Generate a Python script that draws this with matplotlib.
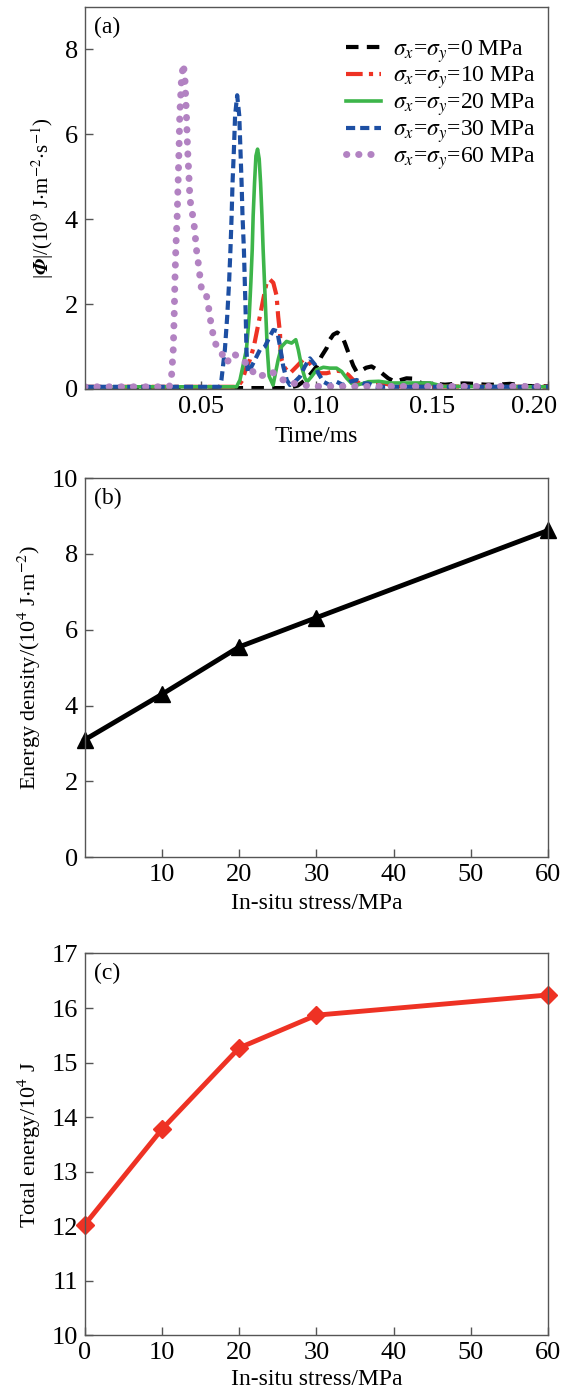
import numpy as np
import matplotlib
matplotlib.use("Agg")
import matplotlib.pyplot as plt
import matplotlib.transforms as mtransforms

plt.rcParams['font.family'] = ['Liberation Serif', 'DejaVu Serif']
plt.rcParams['mathtext.fontset'] = 'stix'

# (a) energy flux vs time
t_0 = [0.0, 0.088, 0.092, 0.095, 0.0975, 0.1001, 0.1022, 0.1044, 0.1058, 0.1073, 0.109, 0.111,
       0.1123, 0.1145, 0.1159, 0.1174, 0.119, 0.1215, 0.1238, 0.1274, 0.131, 0.1339, 0.137,
       0.1389, 0.1425, 0.1454, 0.1505, 0.1555, 0.16, 0.1634, 0.168, 0.173, 0.178, 0.1836,
       0.19, 0.2]
v_0 = [0.02, 0.02, 0.08, 0.2, 0.35, 0.53, 0.77, 0.96, 1.16, 1.28, 1.33, 1.25,
       1.08, 0.75, 0.55, 0.4, 0.42, 0.5, 0.53, 0.41, 0.25, 0.17, 0.22,
       0.25, 0.24, 0.13, 0.12, 0.1, 0.12, 0.13, 0.12, 0.1, 0.1, 0.12,
       0.07, 0.06]

t_10 = [0.0, 0.066, 0.068, 0.0699, 0.0713, 0.073, 0.0756, 0.077, 0.0785, 0.0799, 0.0814,
        0.0828, 0.0835, 0.0843, 0.0845, 0.085, 0.0864, 0.0886, 0.0915, 0.0943, 0.0965,
        0.0987, 0.1015, 0.1044, 0.1087, 0.1116, 0.1138, 0.1159, 0.1188, 0.125, 0.13, 0.135, 0.2]
v_10 = [0.05, 0.05, 0.2, 0.53, 0.69, 1.0, 1.71, 2.1, 2.5, 2.58, 2.5,
        2.2, 1.71, 1.31, 0.92, 0.69, 0.49, 0.37, 0.53, 0.69, 0.65,
        0.49, 0.37, 0.37, 0.43, 0.41, 0.33, 0.21, 0.13, 0.1, 0.12, 0.06, 0.05]

t_20 = [0.0, 0.0655, 0.067, 0.0698, 0.071, 0.0717, 0.0723, 0.0727, 0.0733, 0.0739, 0.0746,
        0.0753, 0.0759, 0.0765, 0.077, 0.0776, 0.0782, 0.0788, 0.0796, 0.0813, 0.0835,
        0.085, 0.0871, 0.0893, 0.0911, 0.0922, 0.0936, 0.095, 0.096, 0.0979, 0.1001,
        0.103, 0.1058, 0.1087, 0.1109, 0.1131, 0.1152, 0.1174, 0.1202, 0.1224, 0.127,
        0.132, 0.139, 0.149, 0.155, 0.2]
v_20 = [0.05, 0.05, 0.21, 0.93, 1.71, 2.5, 3.29, 4.08, 4.86, 5.49, 5.65,
        5.42, 4.86, 4.08, 3.29, 2.5, 1.71, 0.93, 0.3, 0.09, 0.69,
        1.0, 1.12, 1.08, 1.16, 0.92, 0.53, 0.26, 0.17, 0.29, 0.45,
        0.51, 0.49, 0.49, 0.41, 0.25, 0.13, 0.09, 0.13, 0.17, 0.18,
        0.14, 0.14, 0.14, 0.06, 0.05]

t_30 = [0.0, 0.0583, 0.059, 0.0605, 0.0615, 0.0623, 0.0629, 0.0634, 0.0638, 0.0644, 0.0649,
        0.0658, 0.0667, 0.0672, 0.0677, 0.0681, 0.0687, 0.0691, 0.0695, 0.0698, 0.0703,
        0.0706, 0.072, 0.0735, 0.0756, 0.0778, 0.0799, 0.0814, 0.0831, 0.0843, 0.0857,
        0.0872, 0.0886, 0.0907, 0.0929, 0.095, 0.0972, 0.0994, 0.1008, 0.103, 0.1058,
        0.1087, 0.1116, 0.1145, 0.1174, 0.1202, 0.1224, 0.126, 0.2]
v_30 = [0.05, 0.05, 0.21, 0.93, 1.71, 2.5, 3.29, 4.08, 4.86, 5.65, 6.44,
        6.92, 6.44, 5.65, 4.86, 4.08, 3.29, 2.5, 1.71, 0.93, 0.45,
        0.37, 0.53, 0.69, 0.92, 1.0, 1.24, 1.39, 1.36, 1.0, 0.53,
        0.21, 0.09, 0.17, 0.29, 0.53, 0.72, 0.57, 0.37, 0.17, 0.09,
        0.17, 0.09, 0.17, 0.21, 0.13, 0.13, 0.05, 0.05]

t_60 = [0.0, 0.0365, 0.0374, 0.0382, 0.0386, 0.0389, 0.0393, 0.0399, 0.0403, 0.0407, 0.041,
        0.0417, 0.0425, 0.0432, 0.0439, 0.0444, 0.0451, 0.0454, 0.0464, 0.0471, 0.0477,
        0.0482, 0.049, 0.0497, 0.0506, 0.0526, 0.0536, 0.0547, 0.0562, 0.0583, 0.0612,
        0.0641, 0.0677, 0.0706, 0.072, 0.0742, 0.0778, 0.0807, 0.0843, 0.0886, 0.0915,
        0.0943, 0.1, 0.2]
v_60 = [0.05, 0.05, 0.25, 0.93, 1.71, 2.5, 3.29, 4.08, 4.86, 5.65, 6.44,
        7.23, 7.66, 7.38, 6.44, 5.65, 4.86, 4.47, 4.15, 3.92, 3.6,
        3.29, 2.97, 2.66, 2.26, 2.18, 1.87, 1.47, 1.08, 0.93, 0.61,
        0.84, 0.69, 0.57, 0.45, 0.29, 0.33, 0.41, 0.25, 0.13, 0.13,
        0.09, 0.06, 0.06]

labels_a = [r'$\sigma_x$=$\sigma_y$=0 MPa', r'$\sigma_x$=$\sigma_y$=10 MPa',
            r'$\sigma_x$=$\sigma_y$=20 MPa', r'$\sigma_x$=$\sigma_y$=30 MPa',
            r'$\sigma_x$=$\sigma_y$=60 MPa']

# (b) and (c)
stress = [0, 10, 20, 30, 60]
energy_density = [3.1, 4.3, 5.55, 6.32, 8.62]
total_energy = [12.03, 13.78, 15.27, 15.87, 16.24]

fig = plt.figure(figsize=(5.65, 13.94), dpi=100)
ax1 = fig.add_axes([0.150, 0.721, 0.820, 0.274])
ax2 = fig.add_axes([0.150, 0.385, 0.820, 0.272])
ax3 = fig.add_axes([0.150, 0.042, 0.820, 0.274])

spine_col = '#555555'
for ax in (ax1, ax2, ax3):
    for s in ax.spines.values():
        s.set_color(spine_col)
        s.set_linewidth(1.0)
    ax.tick_params(direction='in', length=6, width=1, color=spine_col,
                   labelsize=19, top=False, right=False, pad=5)

# panel a
ax1.plot(t_0, v_0, color='black', lw=3, linestyle=(0, (3, 2)), label=labels_a[0])
ax1.plot(t_10, v_10, color='#ee3224', lw=3, linestyle=(0, (4, 1.5, 1, 1.5)), label=labels_a[1])
ax1.plot(t_20, v_20, color='#3db54a', lw=2.6, label=labels_a[2])
ax1.plot(t_30, v_30, color='#1d4fa3', lw=3, linestyle=(0, (2.2, 1.2)), label=labels_a[3])
ax1.plot(t_60, v_60, color='#b282c2', lw=5, linestyle=(0, (0.05, 1.7)),
         dash_capstyle='round', label=labels_a[4])
ax1.set_xlim(0, 0.2)
ax1.set_ylim(0, 9)
ax1.set_xticks([0.05, 0.10, 0.15, 0.20])
ax1.set_xticklabels(['0.05', '0.10', '0.15', '0.20'])
ax1.set_yticks([0, 2, 4, 6, 8])
# last tick label sits a little left of its tick, as in the original
last = ax1.get_xticklabels()[-1]
last.set_transform(last.get_transform() + mtransforms.ScaledTranslation(-14 / 100, 0, fig.dpi_scale_trans))
ax1.set_xlabel('Time/ms', fontsize=17, labelpad=6)
ax1.set_ylabel(r'|$\mathbfit{\Phi}$|/(10$^9$ J$\cdot$m$^{-2}$$\cdot$s$^{-1}$)', fontsize=15, labelpad=6)
ax1.text(0.02, 0.975, '(a)', transform=ax1.transAxes, fontsize=17, va='top', ha='left')
ax1.legend(loc='upper right', bbox_to_anchor=(1.0, 0.95), frameon=False, fontsize=17,
           handlelength=1.5, handletextpad=0.5, labelspacing=0.0, borderaxespad=0.1)

# panel b
ax2.plot(stress, energy_density, color='black', lw=3.5, marker='^', markersize=11, clip_on=False)
ax2.set_xlim(0, 60)
ax2.set_ylim(0, 10)
ax2.set_xticks([10, 20, 30, 40, 50, 60])
ax2.set_yticks([0, 2, 4, 6, 8, 10])
ax2.set_xlabel('In-situ stress/MPa', fontsize=17, labelpad=5)
ax2.set_ylabel(r'Energy density/(10$^4$ J$\cdot$m$^{-2}$)', fontsize=16, labelpad=6)
ax2.text(0.02, 0.975, '(b)', transform=ax2.transAxes, fontsize=17, va='top', ha='left')

# panel c
ax3.plot(stress, total_energy, color='#ee3224', lw=3.5, marker='D', markersize=9, clip_on=False)
ax3.set_xlim(0, 60)
ax3.set_ylim(10, 17)
ax3.set_xticks([0, 10, 20, 30, 40, 50, 60])
ax3.set_yticks(range(10, 18))
ax3.set_xlabel('In-situ stress/MPa', fontsize=17, labelpad=3)
ax3.set_ylabel(r'Total energy/10$^4$ J', fontsize=16, labelpad=6)
ax3.text(0.02, 0.975, '(c)', transform=ax3.transAxes, fontsize=17, va='top', ha='left')

fig.savefig('out.png', dpi=100)
